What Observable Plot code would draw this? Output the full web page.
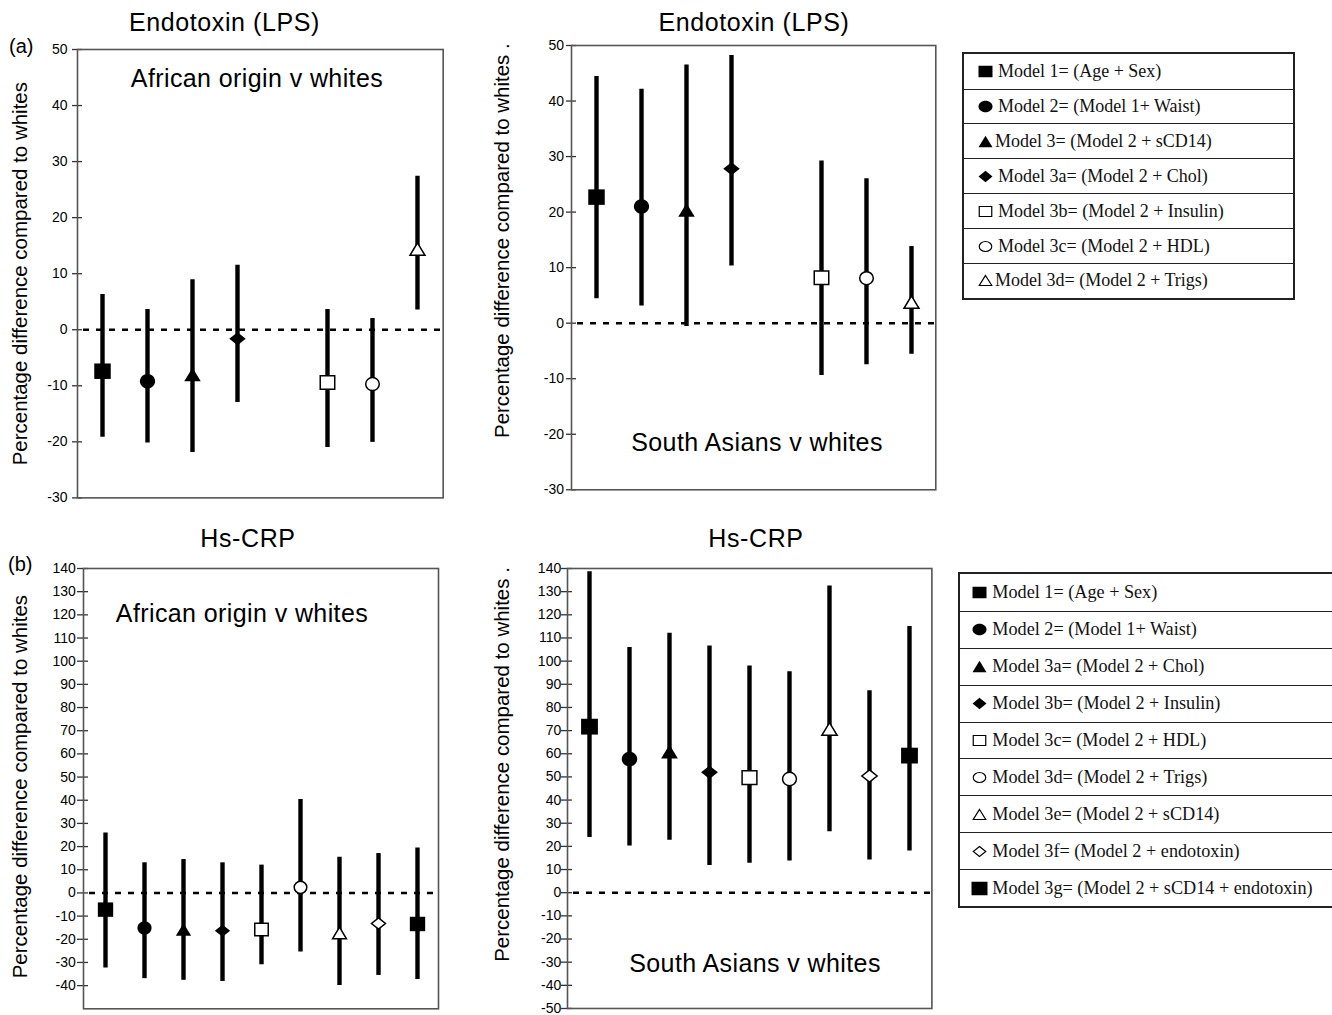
<!DOCTYPE html>
<html><head><meta charset="utf-8">
<script src="https://cdn.jsdelivr.net/npm/d3@7"></script>
<script src="https://cdn.jsdelivr.net/npm/@observablehq/plot@0.6"></script>
<style>
body{margin:0;background:#fff;}
#root{position:relative;width:1332px;height:1015px;overflow:hidden;background:#fff;font-family:"Liberation Sans",Arial,sans-serif;color:#000;}
.t{position:absolute;white-space:nowrap;line-height:1;}
.p{position:absolute;}
.leg{position:absolute;border:2px solid #222;box-sizing:border-box;font-family:"Liberation Serif","Times New Roman",serif;color:#111;background:#fff;}
.row{box-sizing:border-box;display:flex;align-items:center;white-space:nowrap;}
.row + .row{border-top:1.5px solid #222;}
.row svg{flex:none;margin-right:4px;}
</style></head><body><div id="root"></div>
<script>
// ---------------- data ----------------
// Endotoxin (LPS) panel: 8 slots, slot 5 is empty
const lpsSlots = ["1", "2", "3", "3a", "gap", "3b", "3c", "3d"];
const lpsModels = ["1", "2", "3", "3a", "3b", "3c", "3d"];
const lpsSymbols = ["square", "circle", "triangle", "diamond", "square", "circle", "triangle"];
const lpsFilled = [true, true, true, true, false, false, false];

const lpsAfricanEst = [-7.4, -9.2, -8.0, -1.6, -9.4, -9.7, 14.4];
const lpsAfricanLo  = [-19.2, -20.2, -21.9, -13.0, -21.0, -20.1, 3.5];
const lpsAfricanHi  = [6.3, 3.6, 8.9, 11.5, 3.6, 2.0, 27.4];

const lpsSouthAsianEst = [22.7, 21.0, 20.4, 27.8, 8.2, 8.1, 3.8];
const lpsSouthAsianLo  = [4.4, 3.1, -0.6, 10.3, -9.4, -7.5, -5.6];
const lpsSouthAsianHi  = [44.4, 42.1, 46.5, 48.2, 29.2, 26.0, 13.8];

// Hs-CRP panel: 9 models
const crpModels = ["1", "2", "3a", "3b", "3c", "3d", "3e", "3f", "3g"];
const crpSymbols = ["square", "circle", "triangle", "diamond", "square", "circle", "triangle", "diamond", "square"];
const crpFilled = [true, true, true, true, false, false, false, false, true];

const crpAfricanEst = [-7.2, -15.1, -15.8, -16.3, -15.8, 2.4, -17.3, -13.2, -13.4];
const crpAfricanLo  = [-32.4, -37.0, -37.7, -38.2, -31.0, -25.5, -40.0, -35.6, -37.4];
const crpAfricanHi  = [25.9, 13.0, 14.4, 13.0, 12.0, 40.3, 15.4, 17.0, 19.4];

const crpSouthAsianEst = [71.7, 57.7, 60.9, 52.0, 49.7, 49.1, 70.7, 50.4, 59.2];
const crpSouthAsianLo  = [23.8, 20.2, 22.7, 11.7, 12.7, 13.7, 26.3, 14.1, 18.0];
const crpSouthAsianHi  = [138.6, 105.9, 112.0, 106.5, 97.9, 95.4, 132.4, 87.2, 114.9];

const lpsTicks = [-30, -20, -10, 0, 10, 20, 30, 40, 50];
const crpTicksAfrican = [-40, -30, -20, -10, 0, 10, 20, 30, 40, 50, 60, 70, 80, 90, 100, 110, 120, 130, 140];
const crpTicksSouthAsian = [-50, -40, -30, -20, -10, 0, 10, 20, 30, 40, 50, 60, 70, 80, 90, 100, 110, 120, 130, 140];

const lpsLegend = [
  ["square", true, "", "Model 1= (Age + Sex)"],
  ["circle", true, "", "Model 2= (Model 1+ Waist)"],
  ["triangle", true, "tight", "Model 3= (Model 2 + sCD14)"],
  ["diamond", true, "", "Model 3a= (Model 2 + Chol)"],
  ["square", false, "", "Model 3b= (Model 2 + Insulin)"],
  ["circle", false, "", "Model 3c= (Model 2 + HDL)"],
  ["triangle", false, "tight", "Model 3d= (Model 2 + Trigs)"]
];
const crpLegend = [
  ["square", true, "", "Model 1= (Age + Sex)"],
  ["circle", true, "", "Model 2= (Model 1+ Waist)"],
  ["triangle", true, "", "Model 3a= (Model 2 + Chol)"],
  ["diamond", true, "", "Model 3b= (Model 2 + Insulin)"],
  ["square", false, "", "Model 3c= (Model 2 + HDL)"],
  ["circle", false, "", "Model 3d= (Model 2 + Trigs)"],
  ["triangle", false, "", "Model 3e= (Model 2 + sCD14)"],
  ["diamond", false, "", "Model 3f= (Model 2 + endotoxin)"],
  ["square", true, "big", "Model 3g= (Model 2 + sCD14 + endotoxin)"]
];

// ---------------- shapes ----------------
const SHAPES = {
  square: (w, h) => ({draw(ctx) { ctx.moveTo(-w/2, -h/2); ctx.lineTo(w/2, -h/2); ctx.lineTo(w/2, h/2); ctx.lineTo(-w/2, h/2); ctx.closePath(); }}),
  circle: (w, h) => ({draw(ctx) { const rx = w/2, ry = h/2, k = 0.5523;
    ctx.moveTo(rx, 0);
    ctx.bezierCurveTo(rx, ry*k, rx*k, ry, 0, ry);
    ctx.bezierCurveTo(-rx*k, ry, -rx, ry*k, -rx, 0);
    ctx.bezierCurveTo(-rx, -ry*k, -rx*k, -ry, 0, -ry);
    ctx.bezierCurveTo(rx*k, -ry, rx, -ry*k, rx, 0);
    ctx.closePath(); }}),
  triangle: (w, h) => ({draw(ctx) { ctx.moveTo(0, -h/2); ctx.lineTo(w/2, h/2); ctx.lineTo(-w/2, h/2); ctx.closePath(); }}),
  diamond: (w, h) => ({draw(ctx) { ctx.moveTo(0, -h/2); ctx.lineTo(w/2, 0); ctx.lineTo(0, h/2); ctx.lineTo(-w/2, 0); ctx.closePath(); }})
};
const DIMS = {
  square:   {f: [16.5, 15.5], o: [14.5, 13.5]},
  circle:   {f: [15.2, 14.4], o: [13.6, 13.0]},
  triangle: {f: [16.5, 13.5], o: [15.0, 12.5]},
  diamond:  {f: [16.5, 13.0], o: [15.0, 12.0]}
};

function rowsOf(models, est, lo, hi, syms, filled) {
  return models.map((m, i) => ({model: m, est: est[i], lo: lo[i], hi: hi[i], sym: syms[i], filled: filled[i]}));
}

const root = document.getElementById("root");

function panel(cfg) {
  const mL = 90, mR = 6, mT = 12, mB = 6;
  const fw = cfg.fx1 - cfg.fx0, fh = cfg.fy1 - cfg.fy0;
  const W = fw + mL + mR, H = fh + mT + mB;
  const rows = cfg.rows;
  const dotMarks = [];
  for (const kind of ["square", "circle", "triangle", "diamond"]) {
    for (const filled of [true, false]) {
      const sub = rows.filter(d => d.sym === kind && d.filled === filled);
      if (!sub.length) continue;
      const [w, h] = DIMS[kind][filled ? "f" : "o"].map(v => v * cfg.symScale);
      dotMarks.push(Plot.dot(sub, {
        x: "model", y: "est", r: 8, symbol: SHAPES[kind](w, h),
        fill: filled ? "black" : "white", stroke: filled ? "none" : "black", strokeWidth: 1.5
      }));
    }
  }
  const chart = Plot.plot({
    width: W, height: H, marginLeft: mL, marginRight: mR, marginTop: mT, marginBottom: mB,
    style: {fontFamily: "'Liberation Sans', Arial, sans-serif", fontSize: "14px", background: "transparent", color: "#000", overflow: "visible"},
    x: {type: "point", domain: cfg.slots, padding: 0.5, axis: null},
    y: {domain: cfg.domain},
    marks: [
      Plot.ruleY(cfg.ticks, {y: d => d, insetLeft: -cfg.tickOut, insetRight: fw - 5, stroke: "#333", strokeWidth: 1.3}),
      Plot.axisY({ticks: cfg.ticks, tickSize: 0, tickPadding: cfg.tickPad, tickFormat: d => String(d), label: null, fontSize: 14}),
      Plot.frame({stroke: "#555", strokeWidth: 1.6}),
      Plot.ruleY([0], {strokeDasharray: "6,7", strokeWidth: 2.5, stroke: "black", insetLeft: 6}),
      Plot.ruleX(rows, {x: "model", y1: "lo", y2: "hi", strokeWidth: 4.4, stroke: "black"}),
      ...dotMarks,
      Plot.text([cfg.label], {text: d => d, frameAnchor: "left", textAnchor: "middle", lineAnchor: "middle", rotate: -90, dx: cfg.labelDx, dy: cfg.labelDy, fontSize: 20.5, fill: "black"})
    ]
  });
  chart.classList.add("p");
  chart.style.left = (cfg.fx0 - mL) + "px";
  chart.style.top = (cfg.fy0 - mT) + "px";
  root.appendChild(chart);
}

const yLabel = "Percentage difference compared to whites";

panel({slots: lpsSlots, rows: rowsOf(lpsModels, lpsAfricanEst, lpsAfricanLo, lpsAfricanHi, lpsSymbols, lpsFilled),
  domain: [-30, 50], ticks: lpsTicks, fx0: 77, fx1: 442.7, fy0: 49.3, fy1: 497.7,
  label: yLabel, labelDx: -57, labelDy: 0, tickPad: 10, tickOut: 5, symScale: 1});
panel({slots: lpsSlots, rows: rowsOf(lpsModels, lpsSouthAsianEst, lpsSouthAsianLo, lpsSouthAsianHi, lpsSymbols, lpsFilled),
  domain: [-30, 50], ticks: lpsTicks, fx0: 570.7, fx1: 935, fy0: 45, fy1: 489.3,
  label: yLabel + " .", labelDx: -69, labelDy: -27, tickPad: 7.5, tickOut: 5, symScale: 1});
panel({slots: crpModels, rows: rowsOf(crpModels, crpAfricanEst, crpAfricanLo, crpAfricanHi, crpSymbols, crpFilled),
  domain: [-50, 140], ticks: crpTicksAfrican, fx0: 82.7, fx1: 437.7, fy0: 567.7, fy1: 1008,
  label: yLabel, labelDx: -63, labelDy: -2, tickPad: 7.7, tickOut: 6, symScale: 0.93});
panel({slots: crpModels, rows: rowsOf(crpModels, crpSouthAsianEst, crpSouthAsianLo, crpSouthAsianHi, crpSymbols, crpFilled),
  domain: [-50, 140], ticks: crpTicksSouthAsian, fx0: 567.3, fx1: 931.7, fy0: 568.3, fy1: 1008.3,
  label: yLabel + " .", labelDx: -65, labelDy: -24, tickPad: 6.3, tickOut: 6, symScale: 1.02});

// ---------------- text ----------------
function text(str, cx, baseline, size, opts = {}) {
  const el = document.createElement("div");
  el.className = "t";
  el.textContent = str;
  el.style.fontSize = size + "px";
  el.style.top = (baseline - 0.8465 * size) + "px";
  if (opts.letter) el.style.letterSpacing = opts.letter + "px";
  el.style.left = cx + "px";
  if (!opts.left) el.style.transform = "translateX(-50%)";
  root.appendChild(el);
}
text("Endotoxin (LPS)", 224.5, 31.5, 25, {letter: 0.6});
text("Endotoxin (LPS)", 754, 31.5, 25, {letter: 0.6});
text("Hs-CRP", 248, 546.7, 25, {letter: 0.6});
text("Hs-CRP", 756, 546.7, 25, {letter: 0.6});
text("(a)", 9, 53, 20, {left: true});
text("(b)", 8, 570.5, 20, {left: true});
text("African origin v whites", 257, 86.7, 25, {letter: 0.4});
text("South Asians v whites", 757, 450.7, 25, {letter: 0.4});
text("African origin v whites", 242, 621.7, 25, {letter: 0.4});
text("South Asians v whites", 755, 971.7, 25, {letter: 0.4});

// ---------------- legends ----------------
function legendSymbol(kind, filled, big) {
  const w = big ? 16 : 14, h = big ? 13.5 : 11.5;
  const ww = filled ? w : w - 1.5, hh = filled ? h : h - 1.5;
  const svg = d3.create("svg").attr("width", 17).attr("height", 15).attr("viewBox", "-8.5 -7.5 17 15");
  svg.append("path").attr("d", d3.symbol(SHAPES[kind](ww, hh))())
    .attr("fill", filled ? "black" : "white").attr("stroke", filled ? "none" : "black").attr("stroke-width", 1.2);
  return svg.node();
}
function legend(items, left, top, width, height, padLeft, fontSize) {
  const box = document.createElement("div");
  box.className = "leg";
  Object.assign(box.style, {left: left + "px", top: top + "px", width: width + "px", height: height + "px"});
  const rh = (height - 4) / items.length;
  for (const [kind, filled, flag, label] of items) {
    const row = document.createElement("div");
    row.className = "row";
    row.style.height = rh + "px";
    row.style.paddingLeft = padLeft + "px";
    row.style.fontSize = fontSize + "px";
    const sym = legendSymbol(kind, filled, flag === "big");
    if (flag === "tight") sym.style.marginRight = "1px";
    row.appendChild(sym);
    const span = document.createElement("span");
    span.textContent = label;
    row.appendChild(span);
    box.appendChild(row);
  }
  root.appendChild(box);
}
legend(lpsLegend, 962, 51.7, 333, 248.3, 13, 18);
legend(crpLegend, 958.3, 571.7, 420, 336.6, 11, 18.2);
</script></body></html>
